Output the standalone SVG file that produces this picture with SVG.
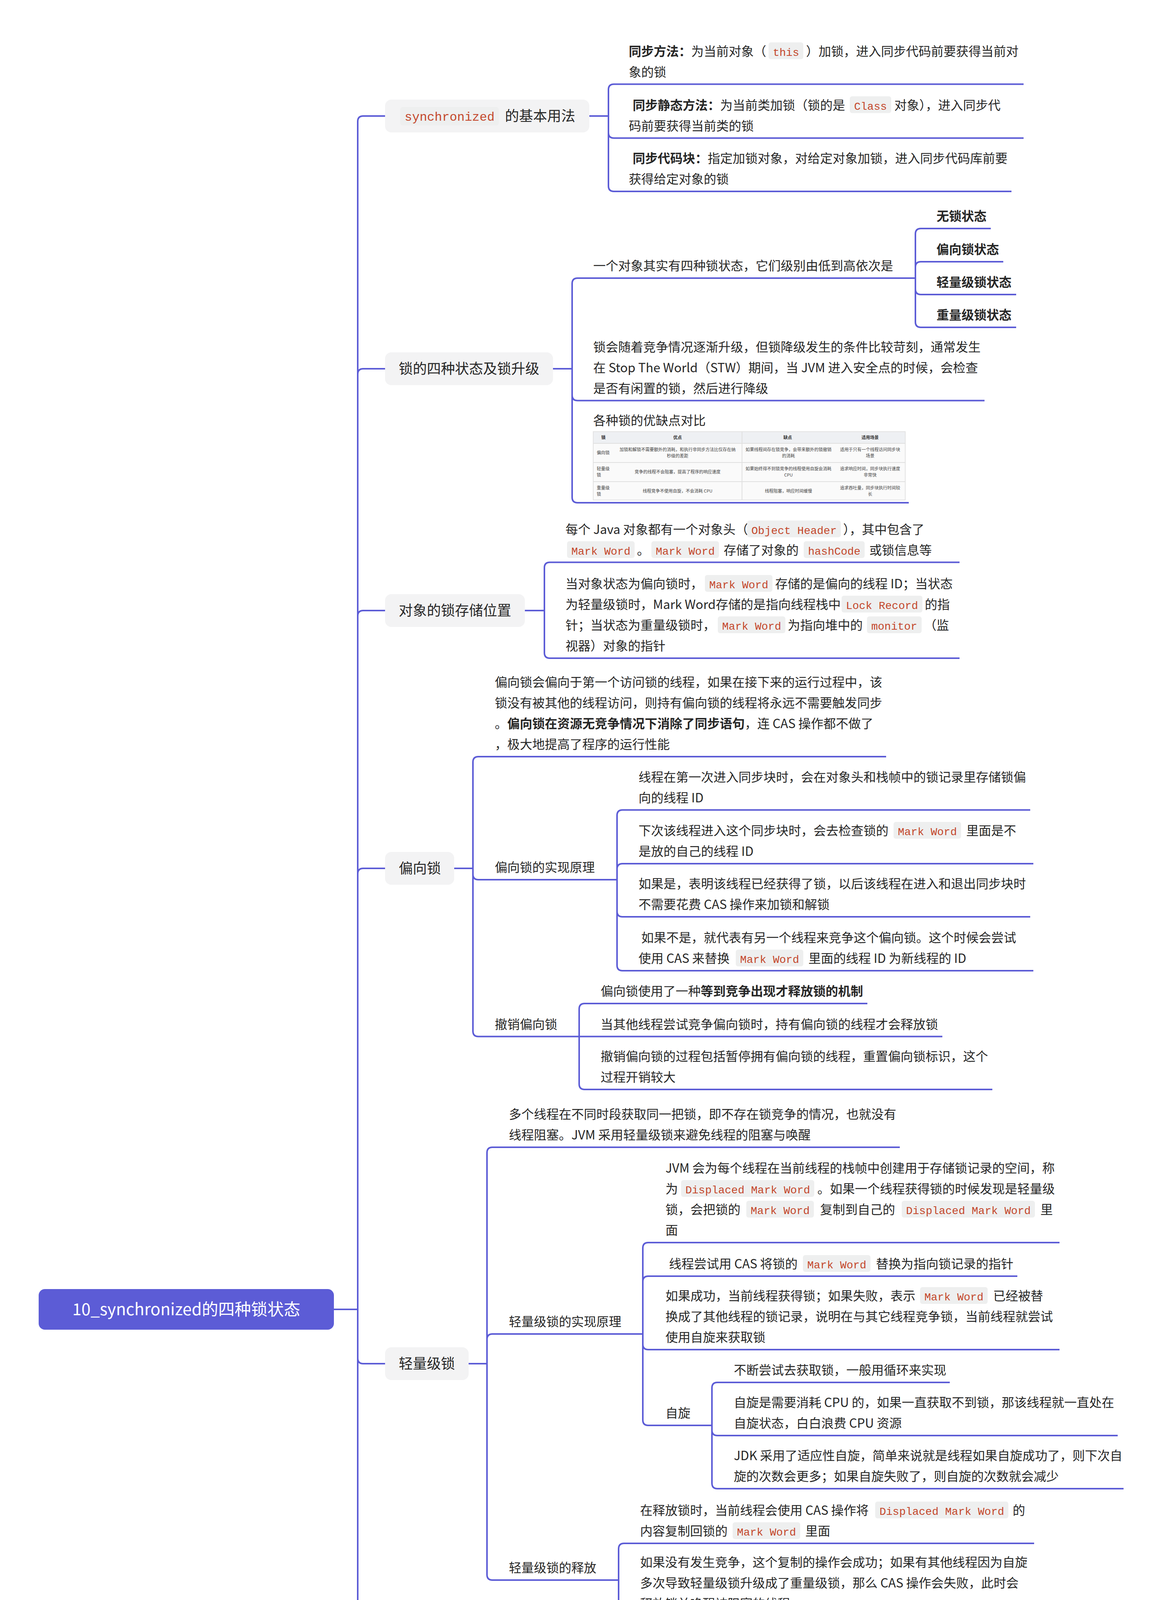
<svg xmlns="http://www.w3.org/2000/svg" width="2978" height="7055" viewBox="0 0 2978 7055">
<style>
.t{font-family:"Noto Sans CJK SC","Liberation Sans",sans-serif;font-size:32px;fill:#262626}
.b{font-weight:700}
.n{font-family:"Noto Sans CJK SC","Liberation Sans",sans-serif;font-size:36px;fill:#262626}
.c{font-family:"Liberation Mono",monospace;font-size:28px;fill:#c4472b}
.cb{fill:#eeefef}
.box{fill:#f3f3f4}
.ln{fill:none;stroke:#5c5cd6;stroke-width:4}
.tb{font-family:"Noto Sans CJK SC","Liberation Sans",sans-serif;font-size:11px;fill:#444}
.th{font-family:"Noto Sans CJK SC","Liberation Sans",sans-serif;font-size:11px;fill:#333;font-weight:700}
.wm{font-family:"Liberation Sans","Noto Sans CJK SC",sans-serif;font-size:50px;fill:#f2f2f2;stroke:#b8b8b8;stroke-width:1}
</style>
<rect width="2978" height="7055" fill="#ffffff"/>

<g id="connectors" class="ln">
<path d="M855 3352H916V311Q916 297 930 297H986"/>
<path d="M855 3352H916V958Q916 944 930 944H986"/>
<path d="M855 3352H916V1577Q916 1563 930 1563H986"/>
<path d="M855 3352H916V2237Q916 2223 930 2223H986"/>
<path d="M855 3352H916V3477Q916 3491 930 3491H986"/>
<path d="M855 3352H916V4483Q916 4497 930 4497H986"/>
<path d="M855 3352H916V5359Q916 5373 930 5373H986"/>
<path d="M855 3352H916V6387Q916 6401 930 6401H986"/>

<path d="M1509 297H1558V229.5Q1558 215.5 1572 215.5H2621"/>
<path d="M1509 297H1558V339.6Q1558 353.6 1572 353.6H2621"/>
<path d="M1509 297H1558V476Q1558 490 1572 490H2590"/>

<path d="M1416 944H1465V726Q1465 712 1479 712H2344"/>
<path d="M1416 944H1465V1011.5Q1465 1025.5 1479 1025.5H2521"/>
<path d="M1416 944H1465V1273Q1465 1287 1479 1287H2327"/>
<path d="M2344 712V599Q2344 585 2358 585H2537"/>
<path d="M2344 712V684Q2344 670 2358 670H2569"/>
<path d="M2344 712V740Q2344 754 2358 754H2602"/>
<path d="M2344 712V824Q2344 838 2358 838H2602"/>

<path d="M1344 1563H1394V1453.5Q1394 1439.5 1408 1439.5H2457"/>
<path d="M1344 1563H1394V1671Q1394 1685 1408 1685H2457"/>

<path d="M1163 2223H1211V1951Q1211 1937 1225 1937H2269"/>
<path d="M1163 2223H1211V2238Q1211 2252 1225 2252H1580"/>
<path d="M1163 2223H1211V2639.5Q1211 2653.5 1225 2653.5H1483"/>
<path d="M1580 2252V2087.5Q1580 2073.5 1594 2073.5H2638"/>
<path d="M1580 2252V2225Q1580 2211 1594 2211H2646"/>
<path d="M1580 2252V2333Q1580 2347 1594 2347H2638"/>
<path d="M1580 2252V2471Q1580 2485 1594 2485H2646"/>
<path d="M1483 2653.5V2583Q1483 2569 1497 2569H2221"/>
<path d="M1483 2653.5H2413"/>
<path d="M1483 2653.5V2775Q1483 2789 1497 2789H2541"/>

<path d="M1200 3491H1247V2951Q1247 2937 1261 2937H2304"/>
<path d="M1200 3491H1247V3429Q1247 3415 1261 3415H1646"/>
<path d="M1200 3491H1247V4031Q1247 4045 1261 4045H1584"/>
<path d="M1646 3415V3195Q1646 3181 1660 3181H2713"/>
<path d="M1646 3415V3281Q1646 3267 1660 3267H2605"/>
<path d="M1646 3415V3441Q1646 3455 1660 3455H2713"/>
<path d="M1646 3415V3635Q1646 3649 1660 3649H1823"/>
<path d="M1823 3649V3553Q1823 3539 1837 3539H2432"/>
<path d="M1823 3649V3661Q1823 3675 1837 3675H2862"/>
<path d="M1823 3649V3797Q1823 3811 1837 3811H2877"/>
<path d="M1584 4045V3965Q1584 3951 1598 3951H2648"/>
<path d="M1584 4045V4123Q1584 4137 1598 4137H2640"/>

<path d="M1200 4497H1247V4353Q1247 4339 1261 4339H2304"/>
<path d="M1200 4497H1247V4640Q1247 4654 1261 4654H1646"/>
<path d="M1646 4654V4545Q1646 4531 1660 4531H2713"/>
<path d="M1646 4654V4763Q1646 4777 1660 4777H2713"/>

<path d="M1273 5373H1321V4942Q1321 4928 1335 4928H2386"/>
<path d="M1273 5373H1321V5138Q1321 5124 1335 5124H2386"/>
<path d="M1273 5373H1321V5332Q1321 5318 1335 5318H2386"/>
<path d="M1273 5373H1321V5389Q1321 5403 1335 5403H2163"/>
<path d="M1273 5373H1321V5577Q1321 5591 1335 5591H2377"/>
<path d="M1273 5373H1321V5713Q1321 5727 1335 5727H2377"/>

<path d="M1128 6401H1176V5837Q1176 5823 1190 5823H2208"/>
<path d="M1128 6401H1176V5975Q1176 5961 1190 5961H2241"/>
<path d="M1128 6401H1176V6164Q1176 6150 1190 6150H2241"/>
<path d="M1128 6401H1176Q1176 6389 1188 6389H2236"/>
<path d="M1128 6401H1176V6623Q1176 6637 1190 6637H2233"/>
<path d="M1128 6401H1176V6769Q1176 6783 1190 6783H2212"/>
<path d="M1128 6401H1176V6968Q1176 6982 1190 6982H2233"/>
</g>

<g id="root">
<rect x="99" y="3300" width="756" height="104" rx="16" fill="#5c5cd6"/>
<text x="477" y="3367" text-anchor="middle" font-family="Noto Sans CJK SC, Liberation Sans, sans-serif" font-size="42" fill="#ffffff">10_synchronized的四种锁状态</text>
</g>

<g id="n-basic">
<rect class="box" x="986" y="255" width="523" height="84" rx="16"/>
<rect class="cb" x="1025" y="274" width="252" height="47" rx="6"/>
<text x="1036" y="309" font-family="Liberation Mono, monospace" font-size="32" fill="#c4472b">synchronized</text>
<text class="n" x="1293" y="310">的基本用法</text>
</g>
<g id="n-basic-1">
<text class="t" y="142.5"><tspan x="1610" class="b">同步方法：</tspan><tspan>为当前对象（</tspan></text>
<rect class="cb" x="1968" y="108.5" width="89" height="43" rx="6"/><text class="c" x="1979" y="142.5">this</text>
<text class="t" x="2064" y="142.5">）加锁，进入同步代码前要获得当前对</text>
<text class="t" x="1610" y="195.5">象的锁</text>
</g>
<g id="n-basic-2">
<text class="t" y="280.6"><tspan x="1620" class="b">同步静态方法：</tspan><tspan>为当前类加锁（锁的是</tspan></text>
<rect class="cb" x="2176" y="246.6" width="106" height="43" rx="6"/><text class="c" x="2187" y="280.6">Class</text>
<text class="t" x="2290" y="280.6">对象），进入同步代</text>
<text class="t" x="1610" y="333.6">码前要获得当前类的锁</text>
</g>
<g id="n-basic-3">
<text class="t" y="417"><tspan x="1620" class="b">同步代码块：</tspan><tspan>指定加锁对象，对给定对象加锁，进入同步代码库前要</tspan></text>
<text class="t" x="1610" y="470">获得给定对象的锁</text>
</g>

<g id="n-states">
<rect class="box" x="986" y="902" width="430" height="84" rx="16"/>
<text class="n" x="1021" y="957">锁的四种状态及锁升级</text>
</g>
<g id="n-states-1"><text class="t" x="1519" y="692">一个对象其实有四种锁状态，它们级别由低到高依次是</text></g>
<g id="n-s-none"><text class="t b" x="2398" y="565">无锁状态</text></g>
<g id="n-s-biased"><text class="t b" x="2398" y="650">偏向锁状态</text></g>
<g id="n-s-light"><text class="t b" x="2398" y="734">轻量级锁状态</text></g>
<g id="n-s-heavy"><text class="t b" x="2398" y="818">重量级锁状态</text></g>
<g id="n-states-2">
<text class="t" x="1519" y="899.5">锁会随着竞争情况逐渐升级，但锁降级发生的条件比较苛刻，通常发生</text>
<text class="t" x="1519" y="952.5">在 Stop The World（STW）期间，当 JVM 进入安全点的时候，会检查</text>
<text class="t" x="1519" y="1005.5">是否有闲置的锁，然后进行降级</text>
</g>
<g id="n-states-3">
<text class="t" x="1519" y="1088">各种锁的优缺点对比</text>
<rect x="1519" y="1105" width="799" height="175" fill="#fafafa" stroke="#e3e3e3" stroke-width="2"/>
<rect x="1520" y="1106" width="797" height="29" fill="#eef0f3"/>
<path d="M1519 1135H2318M1519 1184H2318M1519 1233H2318M1900 1105V1280" stroke="#e0e0e0" stroke-width="2" fill="none"/>
<text class="th" x="1545" y="1124" text-anchor="middle">锁</text>
<text class="th" x="1735" y="1124" text-anchor="middle">优点</text>
<text class="th" x="2017" y="1124" text-anchor="middle">缺点</text>
<text class="th" x="2228" y="1124" text-anchor="middle">适用场景</text>
<text class="tb" x="1528" y="1163">偏向锁</text>
<text class="tb" x="1735" y="1155" text-anchor="middle">加锁和解锁不需要额外的消耗，和执行非同步方法比仅存在纳</text>
<text class="tb" x="1735" y="1171" text-anchor="middle">秒级的差距</text>
<text class="tb" x="2019" y="1155" text-anchor="middle">如果线程间存在锁竞争，会带来额外的锁撤销</text>
<text class="tb" x="2019" y="1171" text-anchor="middle">的消耗</text>
<text class="tb" x="2228" y="1155" text-anchor="middle">适用于只有一个线程访问同步块</text>
<text class="tb" x="2228" y="1171" text-anchor="middle">场景</text>
<text class="tb" x="1528" y="1204">轻量级</text>
<text class="tb" x="1528" y="1220">锁</text>
<text class="tb" x="1735" y="1212" text-anchor="middle">竞争的线程不会阻塞，提高了程序的响应速度</text>
<text class="tb" x="2019" y="1204" text-anchor="middle">如果始终得不到锁竞争的线程使用自旋会消耗</text>
<text class="tb" x="2019" y="1220" text-anchor="middle">CPU</text>
<text class="tb" x="2228" y="1204" text-anchor="middle">追求响应时间，同步块执行速度</text>
<text class="tb" x="2228" y="1220" text-anchor="middle">非常快</text>
<text class="tb" x="1528" y="1253">重量级</text>
<text class="tb" x="1528" y="1269">锁</text>
<text class="tb" x="1735" y="1261" text-anchor="middle">线程竞争不使用自旋，不会消耗 CPU</text>
<text class="tb" x="2019" y="1261" text-anchor="middle">线程阻塞，响应时间缓慢</text>
<text class="tb" x="2228" y="1253" text-anchor="middle">追求吞吐量，同步块执行时间较</text>
<text class="tb" x="2228" y="1269" text-anchor="middle">长</text>
</g>

<g id="n-store">
<rect class="box" x="986" y="1521" width="358" height="84" rx="16"/>
<text class="n" x="1021" y="1576">对象的锁存储位置</text>
</g>
<g id="n-store-1">
<text class="t" x="1448" y="1366.5">每个 Java 对象都有一个对象头（</text>
<rect class="cb" x="1913" y="1332.5" width="240" height="43" rx="6"/><text class="c" x="1924" y="1366.5">Object Header</text>
<text class="t" x="2159" y="1366.5">），其中包含了</text>
<rect class="cb" x="1452" y="1385.5" width="173" height="43" rx="6"/><text class="c" x="1463" y="1419.5">Mark Word</text>
<text class="t" x="1631" y="1419.5">。</text>
<rect class="cb" x="1668" y="1385.5" width="173" height="43" rx="6"/><text class="c" x="1679" y="1419.5">Mark Word</text>
<text class="t" x="1853" y="1419.5">存储了对象的</text>
<rect class="cb" x="2058" y="1385.5" width="156" height="43" rx="6"/><text class="c" x="2069" y="1419.5">hashCode</text>
<text class="t" x="2226" y="1419.5">或锁信息等</text>
</g>
<g id="n-store-2">
<text class="t" x="1448" y="1506">当对象状态为偏向锁时，</text>
<rect class="cb" x="1805" y="1472" width="173" height="43" rx="6"/><text class="c" x="1816" y="1506">Mark Word</text>
<text class="t" x="1985" y="1506">存储的是偏向的线程 ID；当状态</text>
<text class="t" x="1448" y="1559">为轻量级锁时，Mark Word存储的是指向线程栈中</text>
<rect class="cb" x="2155" y="1525" width="207" height="43" rx="6"/><text class="c" x="2166" y="1559">Lock Record</text>
<text class="t" x="2368" y="1559">的指</text>
<text class="t" x="1448" y="1612">针；当状态为重量级锁时，</text>
<rect class="cb" x="1838" y="1578" width="173" height="43" rx="6"/><text class="c" x="1849" y="1612">Mark Word</text>
<text class="t" x="2017" y="1612">为指向堆中的</text>
<rect class="cb" x="2220" y="1578" width="140" height="43" rx="6"/><text class="c" x="2231" y="1612">monitor</text>
<text class="t" x="2366" y="1612">（监</text>
<text class="t" x="1448" y="1665">视器）对象的指针</text>
</g>

<g id="n-biased">
<rect class="box" x="986" y="2181" width="177" height="84" rx="16"/>
<text class="n" x="1021" y="2236">偏向锁</text>
</g>
<g id="n-biased-1">
<text class="t" x="1267" y="1758">偏向锁会偏向于第一个访问锁的线程，如果在接下来的运行过程中，该</text>
<text class="t" x="1267" y="1811">锁没有被其他的线程访问，则持有偏向锁的线程将永远不需要触发同步</text>
<text class="t" x="1267" y="1864">。<tspan class="b">偏向锁在资源无竞争情况下消除了同步语句</tspan>，连 CAS 操作都不做了</text>
<text class="t" x="1267" y="1917">，极大地提高了程序的运行性能</text>
</g>
<g id="n-biased-impl"><text class="t" x="1267" y="2232">偏向锁的实现原理</text></g>
<g id="n-bi-1">
<text class="t" x="1635" y="2000.5">线程在第一次进入同步块时，会在对象头和栈帧中的锁记录里存储锁偏</text>
<text class="t" x="1635" y="2053.5">向的线程 ID</text>
</g>
<g id="n-bi-2">
<text class="t" x="1635" y="2138">下次该线程进入这个同步块时，会去检查锁的</text>
<rect class="cb" x="2288" y="2104" width="173" height="43" rx="6"/><text class="c" x="2299" y="2138">Mark Word</text>
<text class="t" x="2474" y="2138">里面是不</text>
<text class="t" x="1635" y="2191">是放的自己的线程 ID</text>
</g>
<g id="n-bi-3">
<text class="t" x="1635" y="2274">如果是，表明该线程已经获得了锁，以后该线程在进入和退出同步块时</text>
<text class="t" x="1635" y="2327">不需要花费 CAS 操作来加锁和解锁</text>
</g>
<g id="n-bi-4">
<text class="t" x="1642" y="2412">如果不是，就代表有另一个线程来竞争这个偏向锁。这个时候会尝试</text>
<text class="t" x="1635" y="2465">使用 CAS 来替换</text>
<rect class="cb" x="1884" y="2431" width="173" height="43" rx="6"/><text class="c" x="1895" y="2465">Mark Word</text>
<text class="t" x="2070" y="2465">里面的线程 ID 为新线程的 ID</text>
</g>
<g id="n-biased-revoke"><text class="t" x="1267" y="2633.5">撤销偏向锁</text></g>
<g id="n-br-1"><text class="t" x="1538" y="2549">偏向锁使用了一种<tspan class="b">等到竞争出现才释放锁的机制</tspan></text></g>
<g id="n-br-2"><text class="t" x="1538" y="2633.5">当其他线程尝试竞争偏向锁时，持有偏向锁的线程才会释放锁</text></g>
<g id="n-br-3">
<text class="t" x="1538" y="2716">撤销偏向锁的过程包括暂停拥有偏向锁的线程，重置偏向锁标识，这个</text>
<text class="t" x="1538" y="2769">过程开销较大</text>
</g>

<g id="n-light">
<rect class="box" x="986" y="3449" width="214" height="84" rx="16"/>
<text class="n" x="1021" y="3504">轻量级锁</text>
</g>
<g id="n-light-1">
<text class="t" x="1303" y="2864">多个线程在不同时段获取同一把锁，即不存在锁竞争的情况，也就没有</text>
<text class="t" x="1303" y="2917">线程阻塞。JVM 采用轻量级锁来避免线程的阻塞与唤醒</text>
</g>
<g id="n-light-impl"><text class="t" x="1303" y="3395">轻量级锁的实现原理</text></g>
<g id="n-li-1">
<text class="t" x="1704" y="3002">JVM 会为每个线程在当前线程的栈帧中创建用于存储锁记录的空间，称</text>
<text class="t" x="1704" y="3055">为</text>
<rect class="cb" x="1744" y="3021" width="341" height="43" rx="6"/><text class="c" x="1755" y="3055">Displaced Mark Word</text>
<text class="t" x="2093" y="3055">。如果一个线程获得锁的时候发现是轻量级</text>
<text class="t" x="1704" y="3108">锁，会把锁的</text>
<rect class="cb" x="1911" y="3074" width="173" height="43" rx="6"/><text class="c" x="1922" y="3108">Mark Word</text>
<text class="t" x="2100" y="3108">复制到自己的</text>
<rect class="cb" x="2309" y="3074" width="341" height="43" rx="6"/><text class="c" x="2320" y="3108">Displaced Mark Word</text>
<text class="t" x="2664" y="3108">里</text>
<text class="t" x="1704" y="3161">面</text>
</g>
<g id="n-li-2">
<text class="t" x="1713" y="3247">线程尝试用 CAS 将锁的</text>
<rect class="cb" x="2056" y="3213" width="173" height="43" rx="6"/><text class="c" x="2067" y="3247">Mark Word</text>
<text class="t" x="2243" y="3247">替换为指向锁记录的指针</text>
</g>
<g id="n-li-3">
<text class="t" x="1704" y="3329">如果成功，当前线程获得锁；如果失败，表示</text>
<rect class="cb" x="2356" y="3295" width="173" height="43" rx="6"/><text class="c" x="2367" y="3329">Mark Word</text>
<text class="t" x="2543" y="3329">已经被替</text>
<text class="t" x="1704" y="3382">换成了其他线程的锁记录，说明在与其它线程竞争锁，当前线程就尝试</text>
<text class="t" x="1704" y="3435">使用自旋来获取锁</text>
</g>
<g id="n-spin"><text class="t" x="1704" y="3629">自旋</text></g>
<g id="n-spin-1"><text class="t" x="1879" y="3519">不断尝试去获取锁，一般用循环来实现</text></g>
<g id="n-spin-2">
<text class="t" x="1879" y="3602">自旋是需要消耗 CPU 的，如果一直获取不到锁，那该线程就一直处在</text>
<text class="t" x="1879" y="3655">自旋状态，白白浪费 CPU 资源</text>
</g>
<g id="n-spin-3">
<text class="t" x="1879" y="3738">JDK 采用了适应性自旋，简单来说就是线程如果自旋成功了，则下次自</text>
<text class="t" x="1879" y="3791">旋的次数会更多；如果自旋失败了，则自旋的次数就会减少</text>
</g>
<g id="n-light-release"><text class="t" x="1303" y="4025">轻量级锁的释放</text></g>
<g id="n-lr-1">
<text class="t" x="1639" y="3878">在释放锁时，当前线程会使用 CAS 操作将</text>
<rect class="cb" x="2241" y="3844" width="341" height="43" rx="6"/><text class="c" x="2252" y="3878">Displaced Mark Word</text>
<text class="t" x="2593" y="3878">的</text>
<text class="t" x="1639" y="3931">内容复制回锁的</text>
<rect class="cb" x="1876" y="3897" width="173" height="43" rx="6"/><text class="c" x="1887" y="3931">Mark Word</text>
<text class="t" x="2062" y="3931">里面</text>
</g>
<g id="n-lr-2">
<text class="t" x="1639" y="4011">如果没有发生竞争，这个复制的操作会成功；如果有其他线程因为自旋</text>
<text class="t" x="1639" y="4064">多次导致轻量级锁升级成了重量级锁，那么 CAS 操作会失败，此时会</text>
<text class="t" x="1639" y="4117">释放锁并唤醒被阻塞的线程</text>
</g>

<g id="n-heavy">
<rect class="box" x="986" y="4455" width="214" height="84" rx="16"/>
<text class="n" x="1021" y="4510">重量级锁</text>
</g>
<g id="n-heavy-1">
<text class="t" x="1303" y="4213">重量级锁依赖于操作系统的互斥锁（mutex）实现，而操作系统中线程</text>
<text class="t" x="1303" y="4266">间状态的转换需要相对较长的时间，所以重量级锁效率很低，但被阻塞</text>
<text class="t" x="1303" y="4319">的线程不会消耗 CPU</text>
</g>
<g id="n-heavy-impl"><text class="t" x="1303" y="4634">重量级锁的实现原理</text></g>
<g id="n-hi-1">
<text class="t" x="1704" y="4405">当一个线程尝试获得锁时，如果该锁已经被占用，则会将该线程封装成</text>
<text class="t" x="1704" y="4458">一个</text>
<rect class="cb" x="1778" y="4424" width="240" height="43" rx="6"/><text class="c" x="1789" y="4458">ObjectWaiter</text>
<text class="t" x="2027" y="4458">对象插入到</text>
<rect class="cb" x="2200" y="4424" width="290" height="43" rx="6"/><text class="c" x="2211" y="4458">Contention List</text>
<text class="t" x="2495" y="4458">队列的队首，</text>
<text class="t" x="1704" y="4511">然后调用</text>
<rect class="cb" x="1844" y="4477" width="89" height="43" rx="6"/><text class="c" x="1855" y="4511">park</text>
<text class="t" x="1946" y="4511">方法挂起当前线程</text>
</g>
<g id="n-hi-2">
<text class="t" x="1704" y="4598">当线程释放锁时，会从</text>
<rect class="cb" x="2036" y="4564" width="274" height="43" rx="6"/><text class="c" x="2047" y="4598">Contention List</text>
<text class="t" x="2322" y="4598">或</text>
<rect class="cb" x="2368" y="4564" width="190" height="43" rx="6"/><text class="c" x="2379" y="4598">EntryList</text>
<text class="t" x="2568" y="4598">中挑选一</text>
<text class="t" x="1704" y="4651">个线程唤醒，被选中的线程叫做</text>
<rect class="cb" x="2163" y="4617" width="291" height="43" rx="6"/><text class="c" x="2174" y="4651">Heir presumptive</text>
<text class="t" x="2470" y="4651">即假定继承人，</text>
<text class="t" x="1704" y="4704">假定继承人被唤醒后会尝试获得锁，但</text>
<rect class="cb" x="2260" y="4670" width="241" height="43" rx="6"/><text class="c" x="2271" y="4704">synchronized</text>
<text class="t" x="2508" y="4704">是非公平的，</text>
<text class="t" x="1704" y="4757">所以假定继承人不一定能获得锁</text>
</g>

<g id="n-upgrade">
<rect class="box" x="986" y="5331" width="287" height="84" rx="16"/>
<text class="n" x="1021" y="5386">锁的升级流程</text>
</g>
<g id="n-up-1">
<text class="t" x="1377" y="4855">检查</text>
<rect class="cb" x="1452" y="4821" width="173" height="43" rx="6"/><text class="c" x="1463" y="4855">Mark Word</text>
<text class="t" x="1639" y="4855">里面是不是放的自己的</text>
<rect class="cb" x="1972" y="4821" width="156" height="43" rx="6"/><text class="c" x="1983" y="4855">ThreadId</text>
<text class="t" x="2137" y="4855">，如果是，表示</text>
<text class="t" x="1377" y="4908">当前线程是处于“偏向锁”</text>
</g>
<g id="n-up-2">
<text class="t" x="1377" y="4998">如果</text>
<rect class="cb" x="1452" y="4964" width="173" height="43" rx="6"/><text class="c" x="1463" y="4998">Mark Word</text>
<text class="t" x="1639" y="4998">不是自己的</text>
<rect class="cb" x="1812" y="4964" width="156" height="43" rx="6"/><text class="c" x="1823" y="4998">ThreadId</text>
<text class="t" x="1978" y="4998">，锁升级，用 CAS 来执行切</text>
<text class="t" x="1377" y="5051">换，新的线程根据</text>
<rect class="cb" x="1645" y="5017" width="173" height="43" rx="6"/><text class="c" x="1656" y="5051">Mark Word</text>
<text class="t" x="1832" y="5051">里面现有的</text>
<rect class="cb" x="2005" y="5017" width="156" height="43" rx="6"/><text class="c" x="2016" y="5051">ThreadId</text>
<text class="t" x="2170" y="5051">，通知之前线</text>
<text class="t" x="1377" y="5104">程暂停，之前线程将</text>
<rect class="cb" x="1677" y="5070" width="173" height="43" rx="6"/><text class="c" x="1688" y="5104">Mark Word</text>
<text class="t" x="1864" y="5104">的内容置为空</text>
</g>
<g id="n-up-3">
<text class="t" x="1377" y="5192">两个线程都把锁对象的</text>
<rect class="cb" x="1708" y="5158" width="156" height="43" rx="6"/><text class="c" x="1719" y="5192">HashCode</text>
<text class="t" x="1879" y="5192">复制到自己新建的用于存储锁的记</text>
<text class="t" x="1377" y="5245">录空间，接着开始通过 CAS 操作，把锁对象的</text>
<rect class="cb" x="2040" y="5211" width="173" height="43" rx="6"/><text class="c" x="2051" y="5245">Mark Word</text>
<text class="t" x="2226" y="5245">的内容修</text>
<text class="t" x="1377" y="5298">改为自己新建的记录空间的地址的方式竞争</text>
<rect class="cb" x="1995" y="5264" width="173" height="43" rx="6"/><text class="c" x="2006" y="5298">Mark Word</text>
</g>
<g id="n-up-4"><text class="t" x="1377" y="5383">第三步中成功执行 CAS 的获得资源，失败的则进入自旋</text></g>
<g id="n-up-5">
<text class="t" x="1377" y="5465">自旋的线程在自旋过程中，成功获得资源（即之前获的资源的线程执行</text>
<text class="t" x="1377" y="5518">完成并释放了共享资源），则整个状态依然处于轻量级锁的状态，如果</text>
<text class="t" x="1377" y="5571">自旋失败</text>
</g>
<g id="n-up-6">
<text class="t" x="1377" y="5654">进入重量级锁的状态，这个时候，自旋的线程进行阻塞，等待之前线程</text>
<text class="t" x="1377" y="5707">执行完成并唤醒自己</text>
</g>

<g id="n-summary">
<rect class="box" x="986" y="6359" width="142" height="84" rx="16"/>
<text class="n" x="1021" y="6414">总结</text>
</g>
<g id="n-sum-1"><text class="t" x="1232" y="5803">Java 中的每一个对象都可以作为一个锁，Java 中的锁都是基于对象的</text></g>
<g id="n-sum-2">
<rect class="cb" x="1245" y="5854" width="222" height="43" rx="6"/><text class="c" x="1256" y="5888">synchronized</text>
<text class="t" x="1480" y="5888">关键字可以用来修饰方法和代码块，它可以保证在同</text>
<text class="t" x="1232" y="5941">一时刻最多只有一个线程执行该段代码</text>
</g>
<g id="n-sum-3">
<rect class="cb" x="1245" y="5990" width="222" height="43" rx="6"/><text class="c" x="1256" y="6024">synchronized</text>
<text class="t" x="1480" y="6024">关键字在修饰方法时，锁为当前实例对象；在修饰静</text>
<text class="t" x="1232" y="6077">态方法时，锁为当前 Class 对象；在修饰代码块时，锁为括号里面的对</text>
<text class="t" x="1232" y="6130">象</text>
</g>
<g id="n-sum-4">
<text class="t" x="1232" y="6210">Java 6 为了减少获得锁和释放锁带来的性能消耗，引入了“偏向锁”和“轻</text>
<text class="t" x="1232" y="6263">量级锁”。在 Java 6 以前，所有的锁都是“重量级”锁。所以在 Java 6 及</text>
<text class="t" x="1232" y="6316">其以后，一个对象其实有四种锁状态，它们级别由低到高依次是：无锁</text>
<text class="t" x="1232" y="6369">状态、偏向锁状态、轻量级锁状态、重量级锁状态</text>
</g>
<g id="n-sum-5">
<text class="t" x="1232" y="6458">偏向锁会偏向于第一个访问锁的线程，如果在接下来的运行过程中，该</text>
<text class="t" x="1232" y="6511">锁没有被其他的线程访问，则持有偏向锁的线程将永远不需要触发同步</text>
<text class="t" x="1232" y="6564">。也就是说，偏向锁在资源无竞争情况下消除了同步语句，连 CAS 操</text>
<text class="t" x="1232" y="6617">作都不做了，提高了程序的运行性能</text>
</g>
<g id="n-sum-6">
<text class="t" x="1232" y="6710">轻量级锁是通过 CAS 操作和自旋来实现的，如果自旋失败，则会升级</text>
<text class="t" x="1232" y="6763">为重量级锁</text>
</g>
<g id="n-sum-7">
<text class="t" x="1232" y="6856">重量级锁依赖于操作系统的互斥量（mutex）实现的，而操作系统中线</text>
<text class="t" x="1232" y="6909">程间状态的转换需要相对较长的时间，所以重量级锁效率很低，但被阻</text>
<text class="t" x="1232" y="6962">塞的线程不会消耗 CPU</text>
</g>

<text class="wm" x="2612" y="7050">CSDN @云扬</text>
</svg>
